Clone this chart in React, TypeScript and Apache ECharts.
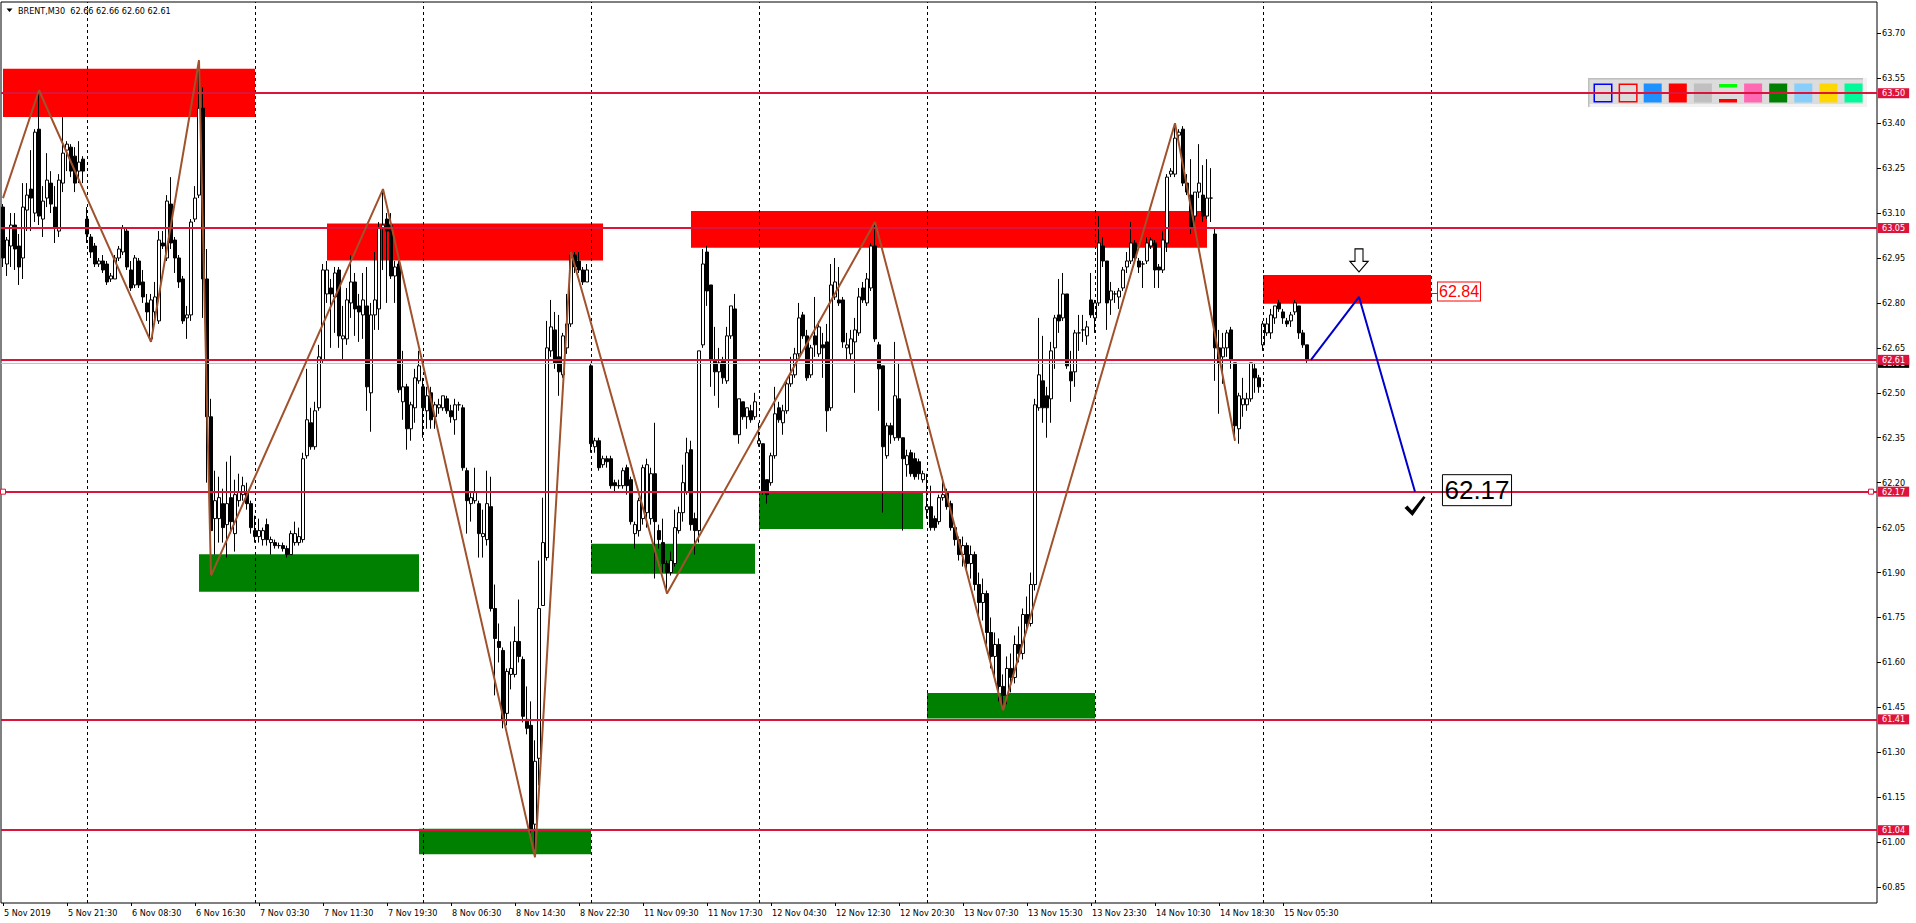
import React, { useEffect, useRef } from "react";
import * as echarts from "echarts";

// ---------- data ----------
const tickLabels = [
  "5 Nov 2019", "5 Nov 21:30", "6 Nov 08:30", "6 Nov 16:30", "7 Nov 03:30", "7 Nov 11:30",
  "7 Nov 19:30", "8 Nov 06:30", "8 Nov 14:30", "8 Nov 22:30", "11 Nov 09:30", "11 Nov 17:30",
  "12 Nov 04:30", "12 Nov 12:30", "12 Nov 20:30", "13 Nov 07:30", "13 Nov 15:30", "13 Nov 23:30",
  "14 Nov 10:30", "14 Nov 18:30", "15 Nov 05:30",
];
const barsPerLabel = 16;
const totalSlots = 469;
const gridBars = [21, 63, 105, 147, 189, 231, 273, 315, 357];
const yTicks = [60.85, 61.0, 61.15, 61.3, 61.45, 61.6, 61.75, 61.9, 62.05, 62.2, 62.35, 62.5, 62.65, 62.8, 62.95, 63.1, 63.25, 63.4, 63.55, 63.7];
const yMin = 60.797;
const yMax = 63.8045;
const levels = [63.5, 63.05, 62.61, 62.17, 61.41, 61.04];
const bidPrice = 62.605;

// [open, high, low, close]
const candles: number[][] = [
  [63.12,63.13,62.92,62.95],[62.93,63.02,62.89,63.01],[62.99,63.10,62.92,63.06],[63.06,63.10,62.91,62.98],
  [62.99,63.03,62.86,62.92],[62.95,63.20,62.88,63.12],[63.11,63.20,63.04,63.16],[63.18,63.31,63.04,63.15],
  [63.10,63.38,63.07,63.37],[63.38,63.51,63.06,63.09],[63.08,63.19,63.02,63.14],[63.15,63.30,63.12,63.21],
  [63.20,63.24,63.10,63.13],[63.12,63.19,63.00,63.05],[63.04,63.23,63.02,63.21],[63.20,63.42,63.17,63.30],
  [63.31,63.34,63.24,63.33],[63.32,63.33,63.22,63.24],[63.29,63.32,63.17,63.20],[63.24,63.34,63.20,63.27],
  [63.28,63.29,63.20,63.24],[63.08,63.12,63.00,63.03],[63.02,63.03,62.95,62.97],[62.99,63.00,62.92,62.93],
  [62.93,62.95,62.92,62.94],[62.94,62.96,62.90,62.91],[62.93,62.94,62.86,62.87],[62.88,62.90,62.87,62.89],
  [62.88,62.96,62.88,62.95],[62.95,62.99,62.94,62.98],[62.97,63.06,62.96,63.05],[63.04,63.05,62.91,62.92],
  [62.91,62.94,62.84,62.85],[62.86,62.96,62.85,62.95],[62.94,62.95,62.85,62.86],[62.87,62.91,62.80,62.82],
  [62.80,62.83,62.74,62.77],[62.68,62.83,62.67,62.81],[62.77,62.87,62.74,62.82],[62.74,63.04,62.73,63.01],
  [63.00,63.04,62.98,62.99],[62.95,63.16,62.94,63.14],[63.13,63.22,62.98,63.00],[63.01,63.02,62.90,62.95],
  [62.95,62.96,62.85,62.87],[62.88,62.89,62.73,62.74],[62.75,62.79,62.68,62.76],[62.76,63.08,62.74,63.07],
  [63.08,63.19,63.07,63.15],[63.16,63.61,63.15,63.45],[63.45,63.52,62.75,62.88],[62.88,62.98,62.20,62.42],
  [62.42,62.48,61.89,62.04],[62.08,62.24,61.96,62.14],[62.08,62.22,62.00,62.15],[62.13,62.18,62.00,62.05],
  [62.06,62.27,61.95,62.13],[62.15,62.29,62.03,62.07],[62.03,62.21,61.97,62.16],[62.14,62.23,62.12,62.17],
  [62.16,62.22,62.14,62.19],[62.17,62.20,62.11,62.13],[62.13,62.14,62.03,62.05],[62.04,62.09,62.00,62.02],
  [62.02,62.08,62.00,62.04],[62.01,62.05,61.99,62.04],[62.06,62.08,61.99,62.01],[62.00,62.02,61.96,62.01],
  [62.00,62.01,61.98,61.99],[61.99,62.00,61.98,61.99],[61.99,62.00,61.97,61.98],[61.98,61.99,61.95,61.96],
  [61.96,62.04,61.96,62.03],[62.00,62.07,61.99,62.03],[62.00,62.05,61.99,62.02],[62.01,62.30,62.00,62.28],
  [62.29,62.58,62.28,62.41],[62.40,62.45,62.31,62.32],[62.32,62.47,62.31,62.44],[62.45,62.66,62.44,62.62],
  [62.61,62.93,62.60,62.91],[62.83,62.94,62.80,62.91],[62.85,62.88,62.65,62.83],[62.82,62.92,62.70,62.90],
  [62.91,62.92,62.65,62.69],[62.68,62.79,62.61,62.69],[62.68,62.85,62.66,62.81],[62.80,62.96,62.75,62.87],
  [62.87,62.90,62.69,62.78],[62.79,62.83,62.67,62.77],[62.76,62.90,62.68,62.81],[62.79,62.92,62.44,62.52],
  [62.50,62.80,62.37,62.76],[62.76,62.97,62.71,62.81],[62.78,63.07,62.71,63.05],[63.05,63.18,62.91,63.06],
  [63.08,63.10,62.80,63.04],[63.06,63.10,62.88,62.89],[62.89,62.94,62.80,62.92],[62.93,62.94,62.50,62.51],
  [62.47,62.64,62.41,62.52],[62.52,62.53,62.31,62.38],[62.38,62.47,62.34,62.46],[62.45,62.58,62.40,62.55],
  [62.54,62.64,62.53,62.59],[62.52,62.55,62.35,62.45],[62.44,62.52,62.38,62.49],[62.50,62.52,62.38,62.41],
  [62.42,62.47,62.38,62.46],[62.45,62.48,62.43,62.46],[62.45,62.49,62.44,62.49],[62.48,62.49,62.43,62.44],
  [62.44,62.46,62.40,62.42],[62.41,62.48,62.36,62.46],[62.46,62.47,62.44,62.46],[62.45,62.46,62.24,62.25],
  [62.24,62.25,62.03,62.14],[62.13,62.17,62.07,62.15],[62.14,62.25,62.13,62.17],[62.13,62.14,61.95,62.03],
  [62.02,62.11,61.95,62.03],[62.01,62.24,61.99,62.13],[62.12,62.22,61.77,61.78],[61.78,61.86,61.49,61.68],
  [61.67,61.73,61.60,61.65],[61.64,61.65,61.38,61.41],[61.43,61.58,61.39,61.57],[61.56,61.67,61.51,61.58],
  [61.56,61.72,61.55,61.67],[61.67,61.81,61.60,61.62],[61.61,61.62,61.40,61.42],[61.41,61.52,61.36,61.38],
  [61.39,61.47,61.03,61.04],[61.06,61.34,60.95,61.27],[61.28,61.94,61.19,61.78],[61.79,62.15,61.79,62.00],
  [61.95,62.74,61.94,62.65],[62.64,62.81,62.62,62.72],[62.71,62.77,62.58,62.60],[62.62,62.76,62.49,62.57],
  [62.56,62.70,62.55,62.69],[62.65,62.83,62.63,62.73],[62.73,62.97,62.72,62.96],[62.96,62.97,62.90,62.92],
  [62.94,62.97,62.90,62.91],[62.91,62.92,62.86,62.87],[62.87,62.93,62.87,62.91],[62.59,62.60,62.30,62.33],
  [62.32,62.35,62.30,62.34],[62.34,62.35,62.24,62.25],[62.26,62.29,62.25,62.28],[62.28,62.29,62.25,62.27],
  [62.28,62.29,62.18,62.19],[62.20,62.21,62.17,62.19],[62.19,62.21,62.18,62.19],[62.19,62.25,62.18,62.24],
  [62.25,62.26,62.16,62.19],[62.21,62.22,62.06,62.07],[62.03,62.07,61.98,62.06],[62.04,62.15,62.02,62.14],
  [62.08,62.26,62.06,62.25],[62.10,62.28,62.05,62.26],[62.08,62.25,62.06,62.23],[62.23,62.40,61.88,62.07],
  [62.04,62.06,61.98,62.01],[62.00,62.08,61.90,61.93],[61.93,61.94,61.83,61.90],[61.90,61.97,61.89,61.94],
  [61.93,62.11,61.92,62.05],[62.04,62.12,62.03,62.10],[62.10,62.26,62.07,62.20],[62.17,62.35,62.16,62.30],
  [62.31,62.34,62.04,62.06],[62.08,62.10,61.96,62.04],[62.04,62.64,62.00,62.64],[62.66,62.98,62.65,62.93],
  [62.97,62.99,62.79,62.84],[62.86,62.86,62.52,62.61],[62.61,62.72,62.49,62.57],[62.57,62.65,62.45,62.60],
  [62.61,62.62,62.53,62.55],[62.54,62.72,62.53,62.69],[62.69,62.79,62.68,62.79],[62.78,62.83,62.36,62.36],
  [62.36,62.48,62.33,62.48],[62.47,62.47,62.41,62.42],[62.42,62.45,62.38,62.45],[62.44,62.46,62.40,62.41],
  [62.42,62.50,62.41,62.47],[62.33,62.40,62.32,62.34],[62.33,62.33,62.16,62.17],[62.21,62.21,62.13,62.16],
  [62.20,62.30,62.19,62.29],[62.29,62.52,62.28,62.43],[62.45,62.47,62.40,62.41],[62.40,62.46,62.36,62.44],
  [62.44,62.54,62.43,62.53],[62.53,62.62,62.52,62.56],[62.56,62.65,62.55,62.63],[62.63,62.80,62.62,62.75],
  [62.76,62.77,62.68,62.69],[62.69,62.71,62.54,62.55],[62.56,62.66,62.55,62.65],[62.69,62.82,62.62,62.66],
  [62.63,62.74,62.62,62.72],[62.66,62.70,62.55,62.65],[62.67,62.73,62.37,62.44],[62.45,62.93,62.44,62.86],
  [62.82,62.95,62.81,62.87],[62.81,62.92,62.79,62.80],[62.81,62.82,62.65,62.67],[62.65,62.70,62.61,62.66],
  [62.63,62.71,62.61,62.68],[62.67,62.75,62.50,62.71],[62.70,62.85,62.69,62.82],[62.85,62.87,62.80,62.81],
  [62.80,62.90,62.79,62.88],[62.85,63.00,62.84,62.99],[62.99,63.07,62.67,62.68],[62.66,62.67,62.44,62.58],
  [62.59,62.59,62.10,62.32],[62.29,62.40,62.28,62.39],[62.39,62.40,62.33,62.36],[62.35,62.67,62.34,62.49],
  [62.48,62.60,62.34,62.35],[62.35,62.35,62.04,62.28],[62.26,62.31,62.22,62.29],[62.30,62.31,62.22,62.23],
  [62.28,62.30,62.21,62.22],[62.27,62.28,62.21,62.23],[62.21,62.24,62.20,62.23],[62.11,62.23,62.08,62.12],
  [62.12,62.19,62.04,62.05],[62.08,62.09,62.04,62.05],[62.07,62.16,62.06,62.15],[62.15,62.22,62.14,62.16],
  [62.17,62.18,62.11,62.12],[62.13,62.14,62.04,62.05],[62.05,62.06,61.99,62.01],[62.01,62.02,61.94,61.96],
  [61.96,62.02,61.92,61.99],[61.99,62.00,61.90,61.93],[61.93,61.99,61.88,61.96],[61.96,61.97,61.84,61.86],
  [61.86,61.90,61.76,61.80],[61.80,61.88,61.74,61.83],[61.83,61.84,61.66,61.70],[61.70,61.75,61.58,61.62],
  [61.62,61.70,61.55,61.66],[61.66,61.68,61.47,61.52],[61.52,61.56,61.44,61.49],[61.49,61.62,61.46,61.58],
  [61.58,61.63,61.50,61.55],[61.55,61.69,61.53,61.66],[61.66,61.72,61.60,61.63],[61.63,61.78,61.61,61.76],
  [61.76,61.82,61.70,61.73],[61.73,61.90,61.72,61.86],[61.86,62.48,61.84,62.46],[62.45,62.75,62.44,62.56],
  [62.54,62.69,62.40,62.45],[62.49,62.52,62.35,62.45],[62.48,62.67,62.40,62.64],[62.65,62.76,62.58,62.75],
  [62.76,62.88,62.70,62.74],[62.75,62.90,62.74,62.83],[62.83,62.83,62.58,62.59],[62.57,62.64,62.47,62.54],
  [62.57,62.71,62.52,62.70],[62.70,62.76,62.64,62.70],[62.71,62.76,62.67,62.71],[62.69,62.74,62.66,62.72],
  [62.81,62.90,62.75,62.76],[62.75,62.81,62.70,62.80],[62.80,63.09,62.79,63.00],[62.99,63.02,62.92,62.94],
  [62.94,62.94,62.71,62.80],[62.81,62.87,62.76,62.84],[62.83,62.84,62.80,62.83],[62.82,62.85,62.78,62.84],
  [62.85,62.92,62.84,62.91],[62.92,62.97,62.90,62.94],[62.94,63.07,62.93,63.00],[63.00,63.01,62.94,62.95],
  [62.94,62.95,62.90,62.92],[62.93,62.94,62.85,62.93],[62.94,63.02,62.93,63.00],[62.99,63.02,62.98,63.01],
  [63.00,63.01,62.85,62.91],[62.92,62.93,62.85,62.91],[62.91,63.04,62.90,63.01],[63.00,63.23,62.97,63.22],
  [63.23,63.25,63.22,63.24],[63.23,63.40,63.22,63.35],[63.36,63.38,63.33,63.37],[63.38,63.39,63.19,63.20],
  [63.20,63.23,63.16,63.17],[63.16,63.28,63.03,63.05],[63.09,63.17,63.05,63.17],[63.17,63.33,63.15,63.20],
  [63.16,63.26,63.07,63.09],[63.09,63.28,63.08,63.15],[63.15,63.25,63.07,63.15],[63.03,63.05,62.54,62.65],
  [62.65,62.71,62.43,62.60],[62.62,62.70,62.53,62.65],[62.65,62.71,62.62,62.70],[62.71,62.72,62.58,62.61],
  [62.60,62.60,62.34,62.39],[62.38,62.50,62.33,62.49],[62.46,62.55,62.42,62.48],[62.46,62.50,62.44,62.48],
  [62.48,62.60,62.47,62.60],[62.58,62.60,62.50,62.55],[62.55,62.56,62.50,62.52],[62.66,62.74,62.64,62.73],
  [62.70,62.75,62.69,62.73],[62.70,62.78,62.68,62.76],[62.75,62.79,62.73,62.79],[62.80,62.81,62.77,62.78],
  [62.77,62.78,62.73,62.75],[62.74,62.75,62.72,62.73],[62.74,62.77,62.72,62.76],[62.77,62.81,62.76,62.80],
  [62.79,62.79,62.68,62.70],[62.70,62.71,62.65,62.66],[62.66,62.66,62.60,62.61],
];

// zigzag vertices [bar, price]
const zigzag = [
  [0, 63.15], [9, 63.51], [37, 62.67], [49, 63.61], [52, 61.89], [95, 63.18], [133, 60.95],
  [142, 62.97], [166, 61.83], [218, 63.07], [250, 61.44], [293, 63.4], [308, 62.34],
];
// projected path [bar, price]
const projection = [[327, 62.61], [339, 62.82], [353, 62.17]];
// zones [fromBar, toBar, low, high]
const supplyZones = [
  [0, 63, 63.421, 63.582], [81, 150, 62.942, 63.065], [172, 301, 62.984, 63.107], [315, 357, 62.797, 62.893],
];
const demandZones = [
  [49, 104, 61.836, 61.961], [104, 147, 60.96, 61.045], [147, 188, 61.896, 61.996],
  [189, 230, 62.045, 62.167], [231, 273, 61.413, 61.498],
];
const arrowPoint = [339, 62.942];
const checkPoint = [353, 62.122];
const zoneLabel = { bar: 364, price: 62.838, text: "62.84", lineFrom: 357, lineTo: 359, linePrice: 62.832 };
const targetLabel = { bar: 368, price: 62.175, text: "62.17" };
const anchorSquares = [[0, 62.17], [467, 62.17]];
const symbolName = "BRENT,M30";

const paletteColors = ["hollowBlue", "hollowRed", "#1E90FF", "#FF0000", "#C0C0C0", "bars", "#FF69B4", "#008000", "#87CEFA", "#FFD700", "#00FA9A"];

const FONT = "'DejaVu Sans Condensed', 'DejaVu Sans', sans-serif";
const CRIMSON = "#DC143C";

function buildPalette(): any[] {
  const els: any[] = [];
  const bx = 1588, by = 78, bw = 279, bh = 29;
  els.push({ type: "rect", shape: { x: bx, y: by, width: bw, height: bh }, style: { fill: "#F2F2F2" } });
  els.push({ type: "rect", shape: { x: bx, y: by, width: bw - 4, height: bh - 3 }, style: { fill: "#DCDCDC" } });
  els.push({ type: "rect", shape: { x: bx, y: by, width: bw - 4, height: 1.5 }, style: { fill: "#BEBEBE" } });
  els.push({ type: "rect", shape: { x: bx, y: by, width: 1.5, height: bh }, style: { fill: "#BEBEBE" } });
  paletteColors.forEach((c, k) => {
    const x = 1593.5 + k * 25.1;
    const y = 83.5;
    if (c === "hollowBlue" || c === "hollowRed") {
      els.push({ type: "rect", shape: { x: x + 0.75, y: y + 0.75, width: 17.5, height: 17.5 },
        style: { fill: "none", stroke: c === "hollowBlue" ? "#0000FF" : "#FF0000", lineWidth: 1.5 } });
    } else if (c === "bars") {
      els.push({ type: "rect", shape: { x, y: y + 0.5, width: 18, height: 3.5 }, style: { fill: "#00FF00" } });
      els.push({ type: "rect", shape: { x, y: y + 15.5, width: 18, height: 3.5 }, style: { fill: "#FF0000" } });
    } else {
      els.push({ type: "rect", shape: { x, y, width: 18, height: 19 }, style: { fill: c } });
    }
  });
  return els;
}

export default function App() {
  const ref = useRef<HTMLDivElement>(null);
  useEffect(() => {
    document.body.style.margin = "0";
    if (!ref.current) return;
    const chart = echarts.init(ref.current, undefined, { renderer: "svg" });
    const categories = Array.from({ length: totalSlots }, (_, i) => String(i));
    const isLabelled = (i: number) => i % barsPerLabel === 0 && i / barsPerLabel < tickLabels.length;
    const last = candles[candles.length - 1];
    const header = `${symbolName}  ${last.map((v) => v.toFixed(2)).join(" ")}`;

    const zoneArea = (z: number[], color: string) => [
      { coord: [z[0], z[3]], itemStyle: { color } },
      { coord: [z[1], z[2]] },
    ];

    const option: any = {
      animation: false,
      backgroundColor: "#FFFFFF",
      textStyle: { fontFamily: FONT },
      grid: { left: 1, right: 39, top: 2, bottom: 20, show: true, borderColor: "#000", borderWidth: 1, backgroundColor: "transparent" },
      graphic: [
        { type: "polygon", shape: { points: [[6.5, 8.5], [12.5, 8.5], [9.5, 12]] }, style: { fill: "#000" } },
        { type: "text", x: 18, y: 10.5, style: { text: header, fontSize: 9, fontFamily: FONT, fill: "#000", verticalAlign: "middle" } },
        ...buildPalette(),
      ],
      xAxis: {
        type: "category",
        data: categories,
        boundaryGap: true,
        axisLine: { show: false },
        axisTick: { show: true, alignWithLabel: true, interval: (i: number) => isLabelled(i), length: 3, lineStyle: { color: "#000" } },
        axisLabel: {
          interval: (i: number) => isLabelled(i),
          formatter: (v: string) => tickLabels[Number(v) / barsPerLabel] ?? "",
          align: "left",
          padding: [0, 0, 0, 1],
          margin: 5,
          fontSize: 9,
          fontFamily: FONT,
          color: "#000",
        },
        splitLine: { show: false },
      },
      yAxis: {
        type: "value",
        position: "right",
        min: yMin,
        max: yMax,
        axisLine: { show: false },
        axisTick: { show: true, customValues: yTicks, length: 4, lineStyle: { color: "#000" } },
        axisLabel: { customValues: yTicks, formatter: (v: number) => v.toFixed(2), fontSize: 9, fontFamily: FONT, margin: 5, color: "#000" },
        splitLine: { show: false },
      },
      series: [
        {
          name: "grid",
          type: "line",
          data: [],
          z: 1,
          silent: true,
          markLine: {
            silent: true,
            symbol: "none",
            label: { show: false },
            lineStyle: { color: "#000", type: [3, 3], width: 1 },
            data: gridBars.map((b) => ({ xAxis: b })),
          },
        },
        {
          name: "zones",
          type: "line",
          data: [],
          z: 2,
          silent: true,
          markArea: {
            silent: true,
            data: [
              ...supplyZones.map((z) => zoneArea(z, "#FF0000")),
              ...demandZones.map((z) => zoneArea(z, "#008000")),
            ],
          },
        },
        {
          name: "bid",
          type: "line",
          data: [],
          z: 3,
          silent: true,
          markLine: {
            silent: true,
            symbol: "none",
            lineStyle: { color: "#C0C0C0", type: "solid", width: 1 },
            label: { show: true, position: "end", distance: 1, formatter: () => "62.61", backgroundColor: "#000", color: "#fff", fontSize: 9, fontFamily: FONT, padding: [1, 4, 0, 4] },
            data: [{ yAxis: bidPrice }],
          },
        },
        {
          name: "BRENT",
          type: "candlestick",
          z: 4,
          barWidth: 3,
          data: candles.map((r) => [r[0], r[3], r[2], r[1]]),
          itemStyle: { color: "#FFFFFF", color0: "#000000", borderColor: "#000000", borderColor0: "#000000", borderWidth: 1 },
        },
        {
          name: "levels",
          type: "line",
          data: [],
          z: 5,
          silent: true,
          markLine: {
            silent: true,
            symbol: "none",
            lineStyle: { color: CRIMSON, type: "solid", width: 2 },
            label: {
              show: true, position: "end", distance: 1,
              formatter: (p: any) => Number(p.value).toFixed(2),
              backgroundColor: CRIMSON, color: "#fff", fontSize: 9, fontFamily: FONT, padding: [1, 4, 0, 4],
            },
            data: levels.map((v) => ({ yAxis: v })),
          },
        },
        {
          name: "zigzag",
          type: "line",
          z: 6,
          data: zigzag,
          symbol: "none",
          lineStyle: { color: "#A0522D", width: 2 },
        },
        {
          name: "projection",
          type: "line",
          z: 7,
          data: projection,
          symbol: "none",
          lineStyle: { color: "#0000CD", width: 2 },
        },
        {
          name: "annotations",
          type: "line",
          data: [],
          z: 8,
          silent: true,
          markLine: {
            silent: true,
            symbol: "none",
            label: { show: false },
            lineStyle: { color: "#FF0000", type: "solid", width: 1 },
            data: [[{ coord: [zoneLabel.lineFrom, zoneLabel.linePrice] }, { coord: [zoneLabel.lineTo, zoneLabel.linePrice] }]],
          },
          markPoint: {
            silent: true,
            data: [
              ...anchorSquares.map((c) => ({
                coord: c, symbol: "rect", symbolSize: 5,
                itemStyle: { color: "#FFFFFF", borderColor: CRIMSON, borderWidth: 1 },
                label: { show: false },
              })),
              {
                coord: arrowPoint,
                symbol: "path://M4,0 L12,0 L12,12 L17,12 L8,22 L-1,12 L4,12 Z",
                symbolSize: [18, 23],
                itemStyle: { color: "#FFFFFF", borderColor: "#000", borderWidth: 1.2 },
                label: { show: false },
              },
              {
                coord: checkPoint,
                symbol: "path://M0,12 L3,9.5 L7.5,14.5 L19,0 L21,1.5 L8,20 Z",
                symbolSize: [21, 20],
                itemStyle: { color: "#000" },
                label: { show: false },
              },
              {
                coord: [zoneLabel.bar, zoneLabel.price],
                symbol: "rect", symbolSize: 1,
                itemStyle: { color: "rgba(0,0,0,0)" },
                label: {
                  show: true, position: "inside", formatter: zoneLabel.text,
                  fontFamily: "'Liberation Sans', Arial, sans-serif", fontSize: 16, lineHeight: 17,
                  color: "#FF0000", backgroundColor: "#FFFFFF", borderColor: "#FF0000", borderWidth: 1, padding: [1, 1, 0, 1],
                },
              },
              {
                coord: [targetLabel.bar, targetLabel.price],
                symbol: "rect", symbolSize: 1,
                itemStyle: { color: "rgba(0,0,0,0)" },
                label: {
                  show: true, position: "inside", formatter: targetLabel.text, offset: [2, 0],
                  fontFamily: "'Liberation Sans', Arial, sans-serif", fontSize: 26, lineHeight: 28,
                  color: "#000", borderColor: "#000", borderWidth: 1, padding: [2, 2, 1, 2],
                },
              },
            ],
          },
        },
      ],
    };
    chart.setOption(option);
    return () => chart.dispose();
  }, []);
  return <div ref={ref} style={{ position: "fixed", left: 0, top: 0, width: 1916, height: 923, background: "#fff" }} />;
}
